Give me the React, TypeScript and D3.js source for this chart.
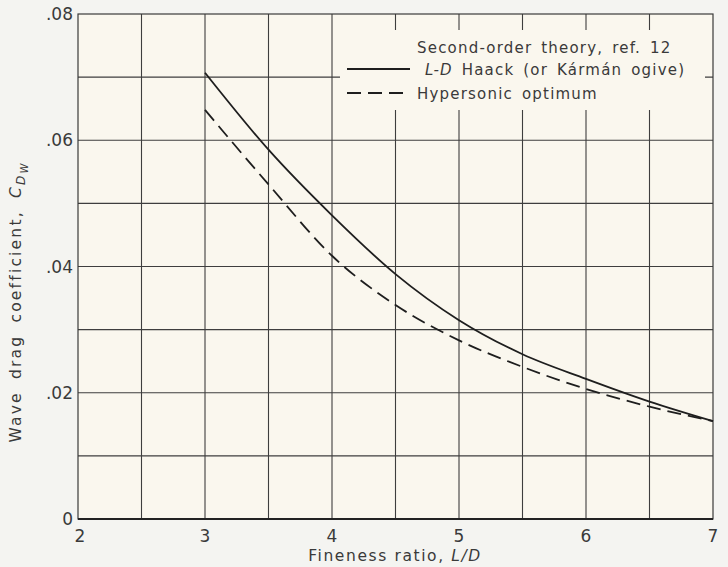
import React from "react";
import * as d3 from "d3";

const ldValues = [3, 3.5, 4, 4.5, 5, 5.5, 6, 6.5, 7];
const haackCdw = [0.0707, 0.0585, 0.0481, 0.0388, 0.0315, 0.0261, 0.0222, 0.0186, 0.0155];
const hyperCdw = [0.0648, 0.053, 0.0417, 0.0339, 0.0283, 0.0241, 0.0206, 0.0178, 0.0155];
const xTicks = [2, 3, 4, 5, 6, 7];
const yTicks = [0, 0.02, 0.04, 0.06, 0.08];
const yTickLabels = ["0", ".02", ".04", ".06", ".08"];
const xGrid = [2.5, 3, 3.5, 4, 4.5, 5, 5.5, 6, 6.5];
const yGrid = [0.01, 0.02, 0.03, 0.04, 0.05, 0.06, 0.07];

const W = 728;
const H = 567;
const left = 78;
const right = 713;
const top = 14;
const bottom = 519;

const FONT = "'DejaVu Sans', sans-serif";
const INK = "#3a3a3a";

export default function App() {
  const x = d3.scaleLinear().domain([2, 7]).range([left, right]);
  const y = d3.scaleLinear().domain([0, 0.08]).range([bottom, top]);

  const line = d3
    .line<number>()
    .x((_, i) => x(ldValues[i]))
    .y((d) => y(d))
    .curve(d3.curveMonotoneX);

  const legendBox = { x0: 340, x1: 705, y0: 30, y1: 110 };

  return (
    <svg
      width={W}
      height={H}
      style={{ position: "absolute", left: 0, top: 0, background: "#f4f4f1" }}
    >
      <rect x={left} y={top} width={right - left} height={bottom - top} fill="#faf7ee" />
      {/* grid */}
      {xGrid.map((g) => (
        <line key={"vx" + g} x1={x(g)} x2={x(g)} y1={top} y2={bottom} stroke="#3e3e3e" strokeWidth={1.1} />
      ))}
      {yGrid.map((g) => (
        <line key={"hy" + g} x1={left} x2={right} y1={y(g)} y2={y(g)} stroke="#3e3e3e" strokeWidth={1.1} />
      ))}
      {/* legend background */}
      <rect
        x={legendBox.x0}
        y={legendBox.y0}
        width={legendBox.x1 - legendBox.x0}
        height={legendBox.y1 - legendBox.y0}
        fill="#faf7ee"
      />
      {/* frame */}
      <rect x={left} y={top} width={right - left} height={bottom - top} fill="none" stroke="#3a3a3a" strokeWidth={1.2} />
      <line x1={left} x2={right} y1={bottom} y2={bottom} stroke="#222" strokeWidth={2.2} />

      {/* curves */}
      <path d={line(haackCdw) || ""} fill="none" stroke="#1e1e1e" strokeWidth={1.8} />
      <path d={line(hyperCdw) || ""} fill="none" stroke="#1e1e1e" strokeWidth={1.8} strokeDasharray="14,7" />

      {/* y tick labels */}
      {yTicks.map((t, i) => (
        <text
          key={"yt" + t}
          x={left - 5}
          y={y(t) + 6}
          textAnchor="end"
          fontFamily={FONT}
          fontSize={17}
          fill={INK}
        >
          {yTickLabels[i]}
        </text>
      ))}
      {/* x tick labels */}
      {xTicks.map((t) => (
        <text
          key={"xt" + t}
          x={x(t) + (t === 2 ? 2 : 0)}
          y={bottom + 23}
          textAnchor="middle"
          fontFamily={FONT}
          fontSize={17}
          fill={INK}
        >
          {t}
        </text>
      ))}

      {/* axis titles */}
      <text
        x={395}
        y={561}
        textAnchor="middle"
        fontFamily={FONT}
        fontSize={15.5}
        fill={INK}
        letterSpacing={1.6}
      >
        Fineness ratio,{"  "}
        <tspan fontStyle="italic">L/D</tspan>
      </text>
      <text
        transform={`translate(21, ${302}) rotate(-90)`}
        textAnchor="middle"
        fontFamily={FONT}
        fontSize={15.5}
        fill={INK}
        letterSpacing={2.2}
        wordSpacing={5}
      >
        Wave drag coefficient,{"  "}
        <tspan fontStyle="italic">C</tspan>
        <tspan fontStyle="italic" fontSize={12} dy={4}>D</tspan>
        <tspan fontStyle="italic" fontSize={10} dy={3}>W</tspan>
      </text>

      {/* legend */}
      <text x={417} y={53} fontFamily={FONT} fontSize={15} fill={INK} letterSpacing={1.2} wordSpacing={3}>
        Second-order theory, ref. 12
      </text>
      <line x1={347} x2={410} y1={69} y2={69} stroke="#1e1e1e" strokeWidth={1.8} />
      <text x={425} y={75} fontFamily={FONT} fontSize={15} fill={INK} letterSpacing={1.2} wordSpacing={3}>
        <tspan fontStyle="italic">L-D</tspan> Haack (or Kármán ogive)
      </text>
      <line x1={347} x2={410} y1={93} y2={93} stroke="#1e1e1e" strokeWidth={1.8} strokeDasharray="14,7" />
      <text x={417} y={99} fontFamily={FONT} fontSize={15} fill={INK} letterSpacing={1.2} wordSpacing={3}>
        Hypersonic optimum
      </text>
    </svg>
  );
}
